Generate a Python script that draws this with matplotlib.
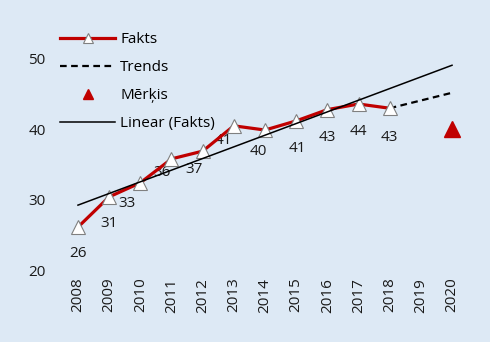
import matplotlib
matplotlib.use('Agg')
import matplotlib.pyplot as plt
import numpy as np

plt.rcParams['font.family'] = ['Open Sans', 'DejaVu Sans']

# dati
gadi = [2008, 2009, 2010, 2011, 2012, 2013, 2014, 2015, 2016, 2017, 2018]
fakts = [26.1, 30.4, 32.4, 35.8, 36.9, 40.5, 39.9, 41.2, 42.8, 43.6, 43.0]
fakts_labels = ['26', '31', '33', '36', '37', '41', '40', '41', '43', '44', '43']
trend_gadi = [2018, 2020]
trend = [43.0, 45.2]
merkis_gads = [2020]
merkis = [40.0]
visi_gadi = list(range(2008, 2021))

# etiķešu nobīdes pikseļos
label_off = [(0, -26), (0, -27), (-13, -21), (-9, -14), (-9, -18), (-10, -15),
             (-7, -21), (1, -28), (0, -28), (0, -27), (0, -29)]

bg = '#DDE9F5'
red = '#C00000'
fs = 11

fig = plt.figure(figsize=(4.9, 3.42), dpi=100, facecolor=bg)
ax = fig.add_axes([62.4 / 490, 1 - 270 / 342, 405.2 / 490, 211 / 342])
ax.set_facecolor(bg)

# lineārā tendence
k, b = np.polyfit(gadi, fakts, 1)
xl = np.array([2008, 2020])
ax.plot(xl, k * xl + b, color='black', lw=1.1, label='Linear (Fakts)', zorder=4, clip_on=False)

ax.plot(trend_gadi, trend, color='black', lw=1.6, ls=(0, (3, 2)), label='Trends', zorder=3, clip_on=False)
ax.plot(gadi, fakts, color=red, lw=2.3, marker='^', ms=10, mfc='white', mec='#808080', mew=0.8,
        label='Fakts', zorder=3, clip_on=False)
ax.plot(merkis_gads, merkis, ls='none', marker='^', ms=11, color=red, mec=red, label='Mērķis',
        clip_on=False)

for x, y, t, off in zip(gadi, fakts, fakts_labels, label_off):
    ax.annotate(t, (x, y), xytext=off, textcoords='offset pixels', ha='center', va='center',
                fontsize=fs, color='#1a1a1a', zorder=2)

ax.set_xlim(2007.5, 2020.5)
ax.set_ylim(20, 50)
ax.set_yticks([20, 30, 40, 50])
ax.set_xticks(visi_gadi)
ax.set_xticklabels([str(g) for g in visi_gadi], rotation=90)
ax.tick_params(length=0, labelsize=fs, colors='#1a1a1a')
ax.tick_params(axis='y', pad=12)
ax.tick_params(axis='x', pad=5.5)
for s in ax.spines.values():
    s.set_visible(False)

h, l = ax.get_legend_handles_labels()
order = [l.index('Fakts'), l.index('Trends'), l.index('Mērķis'), l.index('Linear (Fakts)')]
ax.legend([h[i] for i in order], [l[i] for i in order], loc='upper left',
          bbox_to_anchor=(60 / 490, 1 - 32 / 342), bbox_transform=fig.transFigure,
          frameon=False, fontsize=fs, handlelength=3.6, handletextpad=0.33, labelspacing=0.85,
          borderaxespad=0, borderpad=0, markerscale=0.65)

fig.savefig('out.png', dpi=100, facecolor=bg)
